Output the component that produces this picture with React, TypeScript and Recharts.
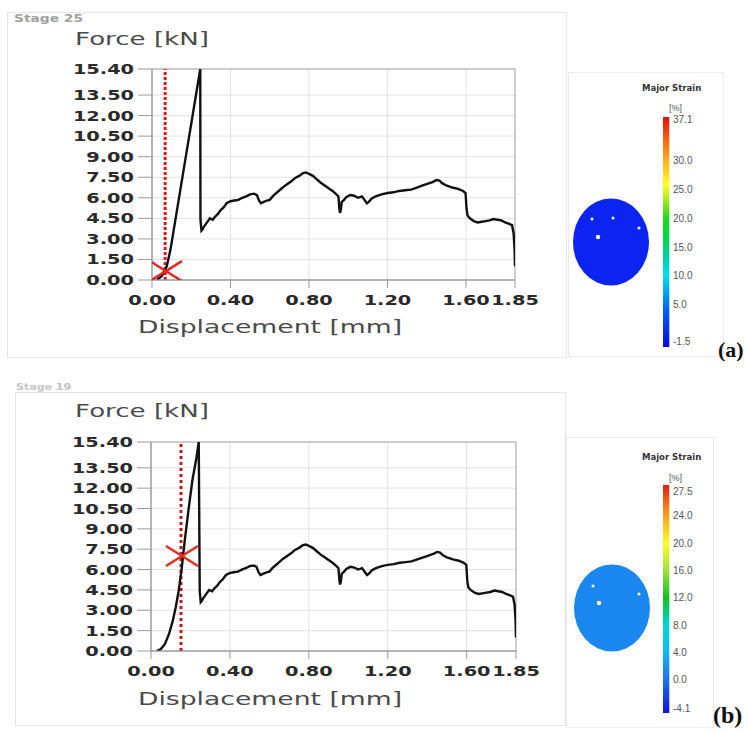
import React from 'react';
import {
  ComposedChart, Line, Scatter, XAxis, YAxis, CartesianGrid, ReferenceLine,
  ReferenceArea, Label, BarChart, Bar,
} from 'recharts';

// ---------- data ----------
const xTicks = [0, 0.4, 0.8, 1.2, 1.6, 1.85];
const yTicks = [0, 1.5, 3, 4.5, 6, 7.5, 9, 10.5, 12, 13.5, 15.4];

// loading ramp, stage 25 (a)
const rampDispA = [0.025, 0.05, 0.075, 0.094, 0.17, 0.246];
const rampForceA = [0, 0.3, 1.0, 2.2, 8.8, 15.4];
// loading ramp, stage 19 (b)
const rampDispB = [0.03, 0.05, 0.07, 0.09, 0.11, 0.125, 0.14, 0.155, 0.17, 0.19, 0.21, 0.23, 0.242];
const rampForceB = [0, 0.15, 0.5, 1.2, 2.2, 3.2, 4.4, 6.0, 8.0, 10.4, 12.6, 14.2, 15.4];

// post-peak response (same test in both panels)
const postDisp = [
  0.247, 0.252, 0.258, 0.265, 0.275, 0.285, 0.295, 0.31, 0.32, 0.335, 0.35, 0.365, 0.38,
  0.4, 0.42, 0.44, 0.46, 0.48, 0.5, 0.52, 0.535, 0.545, 0.555, 0.57, 0.585, 0.6, 0.615,
  0.63, 0.65, 0.67, 0.69, 0.71, 0.73, 0.75, 0.77, 0.785, 0.8, 0.82, 0.84, 0.86, 0.88,
  0.9, 0.92, 0.94, 0.95, 0.955, 0.958, 0.962, 0.967, 0.975, 0.99, 1.01, 1.03, 1.05, 1.07,
  1.08, 1.095, 1.105, 1.12, 1.14, 1.17, 1.2, 1.23, 1.26, 1.29, 1.32, 1.35, 1.38, 1.41,
  1.43, 1.45, 1.465, 1.48, 1.5, 1.53, 1.56, 1.585, 1.598, 1.603, 1.608, 1.62, 1.64, 1.66,
  1.68, 1.7, 1.72, 1.74, 1.76, 1.78, 1.8, 1.82, 1.835, 1.843, 1.848, 1.85,
];
const postForce = [
  4.4, 3.6, 3.7, 3.9, 4.1, 4.3, 4.5, 4.4, 4.6, 4.8, 5.1, 5.3, 5.6,
  5.75, 5.8, 5.85, 6.0, 6.1, 6.25, 6.3, 6.2, 5.8, 5.6, 5.7, 5.8, 5.85, 6.1,
  6.3, 6.55, 6.8, 7.0, 7.2, 7.45, 7.6, 7.8, 7.85, 7.75, 7.6, 7.35, 7.1, 6.9,
  6.7, 6.5, 6.25, 6.1, 5.2, 4.9, 5.1, 5.7, 5.8, 6.05, 6.2, 6.15, 6.0, 6.1,
  5.9, 5.6, 5.7, 5.95, 6.1, 6.25, 6.35, 6.4, 6.5, 6.55, 6.6, 6.75, 6.9, 7.05,
  7.15, 7.3, 7.25, 7.05, 6.9, 6.75, 6.65, 6.5, 6.35, 5.2, 4.7, 4.5, 4.3, 4.2,
  4.25, 4.3, 4.35, 4.45, 4.4, 4.35, 4.2, 4.1, 4.0, 3.4, 2.2, 1.0,
];

// DIC cursor + marker
const cursorDispA = 0.067;
const markerA = [{ d: 0.071, f: 0.65 }];
const cursorDispB = 0.152;
const markerB = [{ d: 0.157, f: 7.0 }];

// colour bars
const strainTicksA = [-1.5, 5.0, 10.0, 15.0, 20.0, 25.0, 30.0, 37.1];
const strainBarA = [-2.37, 37.62];
const strainStopsA: [number, string][] = [
  [-2.37, '#0a0ae0'], [3, '#0050ff'], [7, '#00a0f0'], [10, '#00e0f0'], [13, '#00d0a8'],
  [17, '#00d840'], [20, '#20d820'], [23, '#a0e820'], [26, '#ffff20'], [30, '#ffb020'],
  [33, '#ff7010'], [37.62, '#e01010'],
];
const strainTicksB = [-4.1, 0.0, 4.0, 8.0, 12.0, 16.0, 20.0, 24.0, 27.5];
const strainBarB = [-4.83, 28.52];
const strainStopsB: [number, string][] = [
  [-4.83, '#1010e0'], [0, '#2070f0'], [4, '#10b8f0'], [8, '#00d8d0'], [12, '#10c020'],
  [16, '#a0e040'], [20, '#ffff20'], [24, '#ffa020'], [28.52, '#e02010'],
];

const build = (ds: number[], fs: number[]) => ds.map((d, i) => ({ d, f: fs[i] }));
const curveA = [...build(rampDispA, rampForceA), ...build(postDisp, postForce)];
const curveB = [...build(rampDispB, rampForceB), ...build(postDisp, postForce)];

// ---------- rendering helpers ----------
const YTick = (p: any) => (
  <text transform={`translate(${p.x},${p.y}) scale(1.38,1)`} dy="0.36em" textAnchor="end"
    fontFamily="DejaVu Sans" fontWeight="bold" fontSize={14} fill="#2a2a2a">
    {Number(p.payload.value).toFixed(2)}
  </text>
);
const XTick = (p: any) => (
  <text transform={`translate(${p.x},${p.y}) scale(1.38,1)`} dy="0.71em" textAnchor="middle"
    fontFamily="DejaVu Sans" fontWeight="bold" fontSize={14} fill="#2a2a2a">
    {Number(p.payload.value).toFixed(2)}
  </text>
);

const makeCross = (color: string) => (p: any) => {
  const { cx, cy } = p;
  return (
    <g stroke={color} strokeWidth={2.5}>
      <line x1={cx - 16} y1={cy - 10} x2={cx + 16} y2={cy + 10} />
      <line x1={cx - 16} y1={cy + 10} x2={cx + 16} y2={cy - 10} />
    </g>
  );
};

function ForceChart(props: {
  data: any[]; marker: any[]; cursor: number; top: number; margin: any; yWidth: number;
  cursorColor: string; dash: string; markerColor: string;
}) {
  const { data, marker, cursor, top, margin, yWidth, cursorColor, dash, markerColor } = props;
  return (
    <div style={{ position: 'absolute', left: 0, top }}>
      <ComposedChart width={560} height={360} margin={margin}>
        <CartesianGrid stroke="#e2e2e2" />
        <XAxis dataKey="d" type="number" domain={[0, 1.85]} ticks={xTicks} interval={0}
          allowDataOverflow height={50} tickSize={8} tickMargin={7}
          stroke="#9a9a9a" tick={<XTick />}>
          <Label content={() => (
            <text transform="translate(270,333) scale(1.48,1)" textAnchor="middle"
              fontFamily="DejaVu Sans" fontSize={18} fill="#4a4a4a">Displacement [mm]</text>
          )} />
        </XAxis>
        <YAxis dataKey="f" type="number" domain={[0, 15.4]} ticks={yTicks} interval={0}
          allowDataOverflow width={yWidth} tickSize={14} tickMargin={4}
          stroke="#9a9a9a" tick={<YTick />}>
          <Label content={() => (
            <text transform="translate(142,45) scale(1.45,1)" textAnchor="middle"
              fontFamily="DejaVu Sans" fontSize={18} fill="#4a4a4a">Force [kN]</text>
          )} />
        </YAxis>
        <ReferenceArea x1={0} x2={1.85} y1={0} y2={15.4} fill="none" stroke="#a8a8a8" />
        <ReferenceLine x={cursor} stroke={cursorColor} strokeWidth={3} strokeDasharray={dash} />
        <Line data={data} dataKey="f" type="linear" stroke="#111" strokeWidth={2.4}
          strokeLinejoin="miter" dot={false} isAnimationActive={false} />
        <Scatter data={marker} dataKey="f" shape={makeCross(markerColor)} isAnimationActive={false} />
      </ComposedChart>
    </div>
  );
}

function Colorbar(props: {
  id: string; ticks: number[]; bar: number[]; stops: [number, string][]; top: number; margin: any;
}) {
  const { id, ticks, bar, stops, top, margin } = props;
  const [lo, hi] = bar;
  const data = [{ name: 'bar', range: [lo, hi] }];
  return (
    <div style={{ position: 'absolute', left: 560, top }}>
      <BarChart width={180} height={300} data={data} margin={margin} barCategoryGap={0}>
        <defs>
          <linearGradient id={id} x1="0" y1="1" x2="0" y2="0">
            {stops.map(([v, c], i) => (
              <stop key={i} offset={(v - lo) / (hi - lo)} stopColor={c} />
            ))}
          </linearGradient>
        </defs>
        <XAxis dataKey="name" hide />
        <YAxis orientation="right" type="number" domain={[lo, hi]} ticks={ticks} interval={0}
          allowDataOverflow axisLine={false} tickLine={false} tickSize={0} tickMargin={3} width={40}
          tick={(p: any) => (
            <text x={p.x} y={p.y} dy="0.35em" textAnchor="start" fontFamily="Liberation Sans"
              fontSize={10} fill="#555">{Number(p.payload.value).toFixed(1)}</text>
          )} />
        <Bar dataKey="range" fill={`url(#${id})`} barSize={7} isAnimationActive={false} />
      </BarChart>
    </div>
  );
}

function Blob({ cx, cy, color, specks }: { cx: number; cy: number; color: string; specks: number[][] }) {
  return (
    <g>
      <ellipse cx={cx} cy={cy} rx={38} ry={43.5} fill={color} />
      {specks.map(([x, y, r], i) => <circle key={i} cx={x} cy={y} r={r} fill="#ffffff" />)}
    </g>
  );
}

export default function App() {
  return (
    <div style={{ position: 'absolute', left: 0, top: 0, width: 748, height: 733, background: '#fff', overflow: 'hidden' }}>
      {/* panel frames */}
      <div style={{ position: 'absolute', left: 7, top: 12, width: 558, height: 344, border: '1px solid #e4e4e4' }} />
      <div style={{ position: 'absolute', left: 568, top: 72, width: 154, height: 283, border: '1px solid #ececec' }} />
      <div style={{ position: 'absolute', left: 15, top: 392, width: 549, height: 332, border: '1px solid #e4e4e4' }} />
      <div style={{ position: 'absolute', left: 566, top: 437, width: 146, height: 289, border: '1px solid #ececec' }} />

      <ForceChart data={curveA} marker={markerA} cursor={cursorDispA} top={0}
        margin={{ top: 69, right: 45, left: 0, bottom: 30 }} yWidth={152}
        cursorColor="#e8141a" dash="3 2" markerColor="#e82424" />
      <ForceChart data={curveB} marker={markerB} cursor={cursorDispB} top={372}
        margin={{ top: 70, right: 44, left: 0, bottom: 31 }} yWidth={151}
        cursorColor="#c81414" dash="3 3" markerColor="#e0301e" />

      <Colorbar id="gradA" ticks={strainTicksA} bar={strainBarA} stops={strainStopsA} top={70}
        margin={{ top: 47, right: 30, left: 103, bottom: 23 }} />
      <Colorbar id="gradB" ticks={strainTicksB} bar={strainBarB} stops={strainStopsB} top={438}
        margin={{ top: 47, right: 30, left: 103, bottom: 25 }} />

      <svg width={748} height={733} style={{ position: 'absolute', left: 0, top: 0, pointerEvents: 'none' }}>
        <text transform="translate(14,22) scale(1.38,1)" fontFamily="DejaVu Sans" fontWeight="bold"
          fontSize={10} fill="#a0a0a0">Stage 25</text>
        <text transform="translate(16,390) scale(1.38,1)" fontFamily="DejaVu Sans" fontWeight="bold"
          fontSize={8} fill="#c4c4c4">Stage 19</text>
        <text transform="translate(642,91)" fontFamily="DejaVu Sans" fontWeight="bold"
          fontSize={8.5} fill="#333">Major Strain</text>
        <text x={669} y={111} fontFamily="Liberation Sans" fontSize={9} fill="#555">[%]</text>
        <text transform="translate(642,460)" fontFamily="DejaVu Sans" fontWeight="bold"
          fontSize={8.5} fill="#333">Major Strain</text>
        <text x={669} y={481} fontFamily="Liberation Sans" fontSize={9} fill="#555">[%]</text>

        <Blob cx={611} cy={242} color="#0b24f2"
          specks={[[592, 219, 1.5], [613, 218, 1.5], [639, 228, 1.5], [598, 237, 2.2]]} />
        <Blob cx={612} cy={608} color="#1a86ef"
          specks={[[593, 586, 1.5], [639, 594, 1.5], [599, 603, 2.2]]} />

        <text x={718} y={357} fontFamily="Liberation Serif" fontWeight="bold" fontSize={22} fill="#111">(a)</text>
        <text x={713} y={723} fontFamily="Liberation Serif" fontWeight="bold" fontSize={24} fill="#111">(b)</text>
      </svg>
    </div>
  );
}
